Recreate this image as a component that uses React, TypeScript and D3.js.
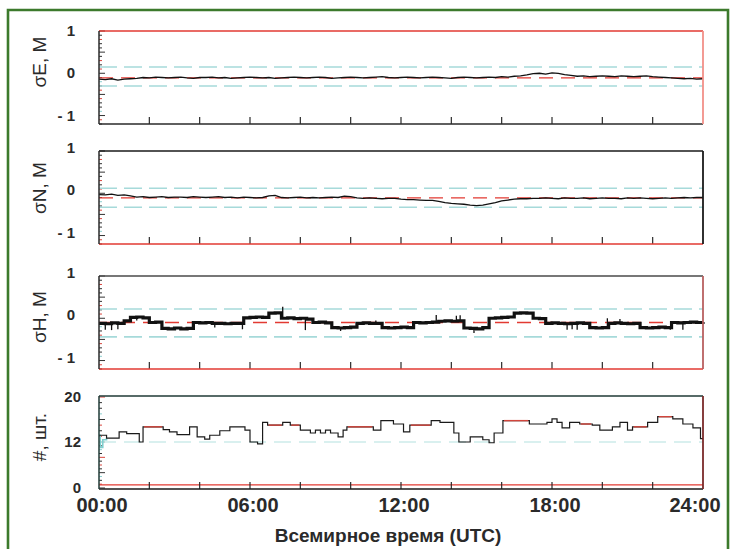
import React from "react";
import * as d3 from "d3";

// ---------- data ----------
const STEP_HOURS = 0.25; // sigma series sampled every 15 min, 00:00..24:00

const sigmaE = [
  -0.14, -0.15, -0.13, -0.16, -0.14, -0.13, -0.12, -0.10, -0.11, -0.09,
  -0.10, -0.11, -0.10, -0.09, -0.11, -0.12, -0.10, -0.10, -0.09, -0.11,
  -0.10, -0.12, -0.11, -0.10, -0.09, -0.10, -0.11, -0.10, -0.12, -0.11,
  -0.10, -0.09, -0.10, -0.11, -0.10, -0.09, -0.10, -0.12, -0.11, -0.10,
  -0.09, -0.10, -0.11, -0.10, -0.09, -0.08, -0.10, -0.11, -0.10, -0.09,
  -0.10, -0.11, -0.10, -0.09, -0.10, -0.11, -0.12, -0.10, -0.09, -0.10,
  -0.11, -0.10, -0.09, -0.10, -0.08, -0.09, -0.07, -0.06, -0.04, -0.01,
  0.00, -0.02, 0.01, 0.00, -0.03, -0.05, -0.07, -0.06, -0.08, -0.07,
  -0.06, -0.07, -0.08, -0.06, -0.07, -0.08, -0.07, -0.06, -0.08, -0.09,
  -0.10, -0.11, -0.12, -0.13, -0.12, -0.14, -0.13,
];

const sigmaN = [
  -0.03, -0.04, -0.02, -0.05, -0.04, -0.06,
  -0.09, -0.08, -0.10, -0.09, -0.08, -0.10, -0.09, -0.09, -0.10, -0.08,
  -0.09, -0.10, -0.09, -0.08, -0.10, -0.09, -0.11, -0.09, -0.10, -0.11, -0.10,
  -0.06, -0.05,
  -0.10, -0.11, -0.10, -0.09, -0.11, -0.10, -0.11, -0.10, -0.09, -0.10,
  -0.07, -0.08,
  -0.11, -0.12, -0.11, -0.12, -0.13, -0.12, -0.12,
  -0.14, -0.15, -0.15, -0.16,
  -0.17, -0.17, -0.19,
  -0.22, -0.24, -0.25, -0.26,
  -0.28, -0.29, -0.28,
  -0.25, -0.22,
  -0.18, -0.16,
  -0.14, -0.13, -0.13, -0.12,
  -0.12, -0.11, -0.12, -0.13, -0.11, -0.12, -0.12, -0.11, -0.13, -0.12,
  -0.11, -0.12, -0.12, -0.13, -0.11, -0.12, -0.11, -0.12, -0.13, -0.12,
  -0.11, -0.12, -0.11, -0.10, -0.11, -0.10, -0.10,
];

const sigmaH = [
  -0.12, -0.13, -0.11, -0.12,
  -0.06,
  0.02, 0.03, 0.01,
  -0.10, -0.09,
  -0.24, -0.25, -0.23, -0.25, -0.24,
  -0.10, -0.11, -0.10, -0.12,
  -0.12, -0.13, -0.12, -0.12,
  0.01, 0.02, 0.03, 0.02,
  0.12, 0.13,
  0.0, 0.01, -0.01, 0.0, -0.02,
  -0.10, -0.09, -0.11,
  -0.22, -0.23, -0.22, -0.21,
  -0.12, -0.11, -0.12, -0.12,
  -0.22, -0.23, -0.22, -0.21, -0.22,
  -0.10, -0.11, -0.10, -0.09,
  -0.07, -0.06, -0.07, -0.06,
  -0.23, -0.24, -0.25, -0.22,
  0.0, 0.01, 0.02, 0.03,
  0.12, 0.13, 0.12,
  0.0, -0.01,
  -0.12, -0.11, -0.12, -0.13, -0.12, -0.11, -0.12,
  -0.22, -0.23, -0.22,
  -0.12, -0.11, -0.12, -0.13, -0.12,
  -0.22, -0.23, -0.22, -0.21, -0.22,
  -0.10, -0.11, -0.10, -0.09, -0.10, -0.09,
];

// short outliers on the σH trace: [hour, value]
const sigmaHSpikes: [number, number][] = [
  [0.25, -0.27], [0.5, -0.28], [0.75, -0.26], [1.5, -0.05], [4.6, -0.22],
  [5.7, -0.26], [7.3, 0.27], [8.2, -0.28], [9.6, -0.3], [11.0, -0.05],
  [13.4, 0.08], [14.2, 0.06], [14.35, 0.07], [14.9, -0.35], [18.6, -0.27],
  [18.8, -0.26], [19.0, -0.27], [20.2, 0.0], [20.7, -0.02], [22.7, -0.27],
  [23.2, -0.27],
];

const sigmaSeries = [sigmaE, sigmaN, sigmaH];
const sigmaUpper = [0.15, 0.12, 0.22];
const sigmaLower = [-0.3, -0.33, -0.44];
const sigmaMedian = [-0.11, -0.11, -0.1];

const satTimes = [
  0, 0.3, 0.8, 1.1, 1.6, 1.75, 2.55, 2.8, 3.1, 3.6, 3.9, 4.2, 4.4, 4.8, 5.2,
  5.8, 6.0, 6.3, 6.5, 6.7, 7.3, 7.6, 8.0, 8.4, 8.6, 8.8, 9.0, 9.2, 9.5, 9.7,
  9.85, 10.9, 11.2, 11.7, 12.1, 12.35, 13.2, 13.55, 14.1, 14.3, 14.75, 15.25,
  15.5, 15.7, 16.05, 17.1, 17.8, 18.0, 18.2, 18.4, 18.7, 19.1, 19.6, 19.9,
  20.4, 20.7, 21.0, 21.2, 21.8, 22.2, 22.8, 23.2, 23.6, 23.9, 24,
];
const satValues = [
  13.2, 12.7, 13.8, 13.5, 12.0, 14.7, 14.2, 13.8, 13.3, 14.7, 12.9, 12.5,
  13.2, 14.0, 14.7, 14.1, 12.0, 11.5, 15.5, 15.0, 15.5, 15.0, 14.1, 13.6,
  14.1, 13.6, 14.1, 13.6, 12.9, 14.1, 14.7, 14.1, 15.8, 15.2, 13.8, 15.0,
  15.8, 15.5, 13.6, 12.0, 12.9, 12.4, 11.8, 13.6, 15.8, 15.2, 15.5, 16.1,
  15.5, 14.5, 15.5, 15.2, 15.0, 14.1, 14.7, 15.5, 14.1, 14.7, 15.5, 16.5,
  16.1, 15.2, 14.5, 12.6, 12.6,
];
// red trace where it shows above the black one: [start, end, value]
const satRedSegments: [number, number, number][] = [
  [1.75, 2.55, 14.7], [6.7, 7.3, 15.0], [7.6, 8.0, 15.0], [9.85, 10.9, 14.7],
  [12.35, 13.2, 15.0], [16.05, 17.1, 15.8], [19.1, 19.6, 15.2],
  [21.2, 21.8, 14.7], [22.2, 22.8, 16.5],
];
const satCyanTimes = [0, 0.05, 0.15, 0.3];
const satCyanValues = [13.2, 10.6, 12.4, 12.7];
const satThreshold = 12;
const satFloor = 0.8;

const panelTitles = ["σE, М", "σN, М", "σH, М", "#, шт."];
const sigmaTicks = [1, 0, -1];
const sigmaTickLabels = ["1", "0", "- 1"];
const satTicks = [20, 12, 0];
const xLabelHours = [0, 6, 12, 18, 24];
const xLabels = ["00:00", "06:00", "12:00", "18:00", "24:00"];
const xAxisTitle = "Всемирное время (UTC)";

// ---------- layout ----------
const W = 736;
const H = 549;
const X0 = 99;
const X1 = 703;
const PANEL_TOPS = [31, 151, 276, 396];
const PANEL_H = 93;
const FONT = "'Liberation Sans', Arial, Helvetica, sans-serif";
const TEXT = "#2a2a2a";
const RED = "#e23a32";
const CYAN = "#a6dada";
const titleCenters = [62, 188, 317, 437];
const borderColors = [
  { top: RED, right: "#f29088", bottom: "#2a2a2a", left: "#2a2a2a" },
  { top: "#1a1a1a", right: "#1a1a1a", bottom: RED, left: "#2a2a2a" },
  { top: "#4a4a4a", right: "#b86060", bottom: RED, left: "#2a2a2a" },
  { top: "#1f3a36", right: "#7a2a2a", bottom: "#1a1a1a", left: "#1f3a36" },
];

const x = d3.scaleLinear().domain([0, 24]).range([X0, X1]);

function sigmaScale(p: number) {
  const top = PANEL_TOPS[p];
  return d3.scaleLinear().domain([-1.2, 1]).range([top + PANEL_H, top]);
}
const ySat = d3.scaleLinear().domain([0, 12, 20]).range([488, 442, 397]);

function Border({ p }: { p: number }) {
  const t = PANEL_TOPS[p];
  const b = t + PANEL_H;
  const c = borderColors[p];
  return (
    <g>
      <line x1={X0} x2={X1} y1={t} y2={t} stroke={c.top} strokeWidth={1.5} />
      <line x1={X0} x2={X1} y1={b} y2={b} stroke={c.bottom} strokeWidth={1.5} />
      <line x1={X1} x2={X1} y1={t} y2={b} stroke={c.right} strokeWidth={1.8} />
      <line x1={X0} x2={X0} y1={t} y2={b} stroke={c.left} strokeWidth={1.5} />
    </g>
  );
}

function XTicks({ p }: { p: number }) {
  const b = PANEL_TOPS[p] + PANEL_H;
  const hours = d3.range(2, 24, 2);
  return (
    <g>
      {hours.map((h) => (
        <line key={h} x1={x(h)} x2={x(h)} y1={b} y2={b - 7} stroke="#2a2a2a" strokeWidth={1.2} />
      ))}
    </g>
  );
}

const tickColors = ["#333", "#d9463e", "#333", "#8ccfcf", "#333", "#333", "#d9463e"];

function SigmaPanel({ p }: { p: number }) {
  const y = sigmaScale(p);
  const data = sigmaSeries[p];
  const line = d3
    .line<number>()
    .x((_, i) => x(i * STEP_HOURS))
    .y((d) => y(d))
    .curve(p === 2 ? d3.curveStepAfter : d3.curveLinear);
  const minor = d3.range(-12, 11).map((k) => k / 10);
  return (
    <g>
      {minor.map((v, i) => {
        const major = Math.abs((v * 10) % 5) < 1e-6;
        return (
          <line
            key={i}
            x1={X0}
            x2={X0 + (major ? 6 : 3)}
            y1={y(v)}
            y2={y(v)}
            stroke={major ? "#333" : tickColors[i % tickColors.length]}
            strokeWidth={1}
          />
        );
      })}
      <line x1={X0} x2={X1} y1={y(sigmaUpper[p])} y2={y(sigmaUpper[p])} stroke={CYAN} strokeWidth={1.6} strokeDasharray="18,7" />
      <line x1={X0} x2={X1} y1={y(sigmaLower[p])} y2={y(sigmaLower[p])} stroke={CYAN} strokeWidth={1.6} strokeDasharray="18,7" />
      <line x1={X0} x2={X1} y1={y(sigmaMedian[p])} y2={y(sigmaMedian[p])} stroke={RED} strokeWidth={1.4} strokeDasharray="14,8" />
      <path d={line(data) || ""} fill="none" stroke="#111" strokeWidth={p === 2 ? 3.2 : 1.3} />
      {p === 2 &&
        sigmaHSpikes.map(([h, v], i) => {
          const base = data[Math.min(data.length - 1, Math.floor(h / STEP_HOURS))];
          return <line key={i} x1={x(h)} x2={x(h)} y1={y(base)} y2={y(v)} stroke="#111" strokeWidth={1.3} />;
        })}
      <XTicks p={p} />
      <Border p={p} />
      {sigmaTicks.map((v, i) => (
        <text
          key={v}
          x={75}
          y={y(v) + (p === 0 ? 5 : 2)}
          textAnchor="end"
          fontFamily={FONT}
          fontWeight="bold"
          fontSize={15}
          fill={TEXT}
        >
          {sigmaTickLabels[i]}
        </text>
      ))}
    </g>
  );
}

function SatPanel() {
  const p = 3;
  const step = d3
    .line<number>()
    .x((_, i) => x(satTimes[i]))
    .y((d) => ySat(d))
    .curve(d3.curveStepAfter);
  const cyanLine = d3
    .line<number>()
    .x((_, i) => x(satCyanTimes[i]))
    .y((d) => ySat(d))
    .curve(d3.curveStepAfter);
  const minor = d3.range(0, 21);
  return (
    <g>
      {minor.map((v) => (
        <line
          key={v}
          x1={X0}
          x2={X0 + (v % 4 === 0 ? 6 : 3)}
          y1={ySat(v)}
          y2={ySat(v)}
          stroke={tickColors[v % tickColors.length]}
          strokeWidth={1}
        />
      ))}
      <line x1={X0} x2={X1} y1={ySat(satThreshold)} y2={ySat(satThreshold)} stroke="#cdebea" strokeWidth={1.6} strokeDasharray="17,8" />
      <line x1={X0} x2={X1} y1={ySat(satFloor)} y2={ySat(satFloor)} stroke={RED} strokeWidth={1.3} />
      <path d={cyanLine(satCyanValues) || ""} fill="none" stroke="#7fcfcf" strokeWidth={1.6} />
      <path d={step(satValues) || ""} fill="none" stroke="#1a1a1a" strokeWidth={1.2} />
      {satRedSegments.map(([a, b, v], i) => (
        <line key={i} x1={x(a) + 1} x2={x(b) - 1} y1={ySat(v)} y2={ySat(v)} stroke="#d2453c" strokeWidth={1.4} />
      ))}
      <XTicks p={p} />
      <Border p={p} />
      {satTicks.map((v) => (
        <text key={v} x={81} y={ySat(v) + 5} textAnchor="end" fontFamily={FONT} fontWeight="bold" fontSize={15} fill={TEXT}>
          {String(v)}
        </text>
      ))}
    </g>
  );
}

export default function App() {
  return (
    <svg
      width={W}
      height={H}
      viewBox={`0 0 ${W} ${H}`}
      style={{ position: "absolute", left: 0, top: 0, background: "#fff" }}
    >
      <rect x={0} y={0} width={W} height={H} fill="#fff" />
      <path d={`M8,${H + 5} V10 H728 V${H + 5}`} fill="none" stroke="#3c7a2c" strokeWidth={2.6} />
      {[0, 1, 2].map((p) => (
        <SigmaPanel key={p} p={p} />
      ))}
      <SatPanel />
      {panelTitles.map((t, i) => (
        <text
          key={t}
          transform={`translate(46,${titleCenters[i]}) rotate(-90)`}
          textAnchor="middle"
          fontFamily={FONT}
          fontSize={19}
          fill={TEXT}
        >
          {t}
        </text>
      ))}
      {xLabelHours.map((h, i) => (
        <text
          key={h}
          x={x(h) + (h === 24 ? -8 : 3)}
          y={512}
          textAnchor="middle"
          fontFamily={FONT}
          fontWeight="bold"
          fontSize={20}
          fill={TEXT}
        >
          {xLabels[i]}
        </text>
      ))}
      <text x={388} y={542} textAnchor="middle" fontFamily={FONT} fontWeight="bold" fontSize={19} fill={TEXT}>
        {xAxisTitle}
      </text>
    </svg>
  );
}
